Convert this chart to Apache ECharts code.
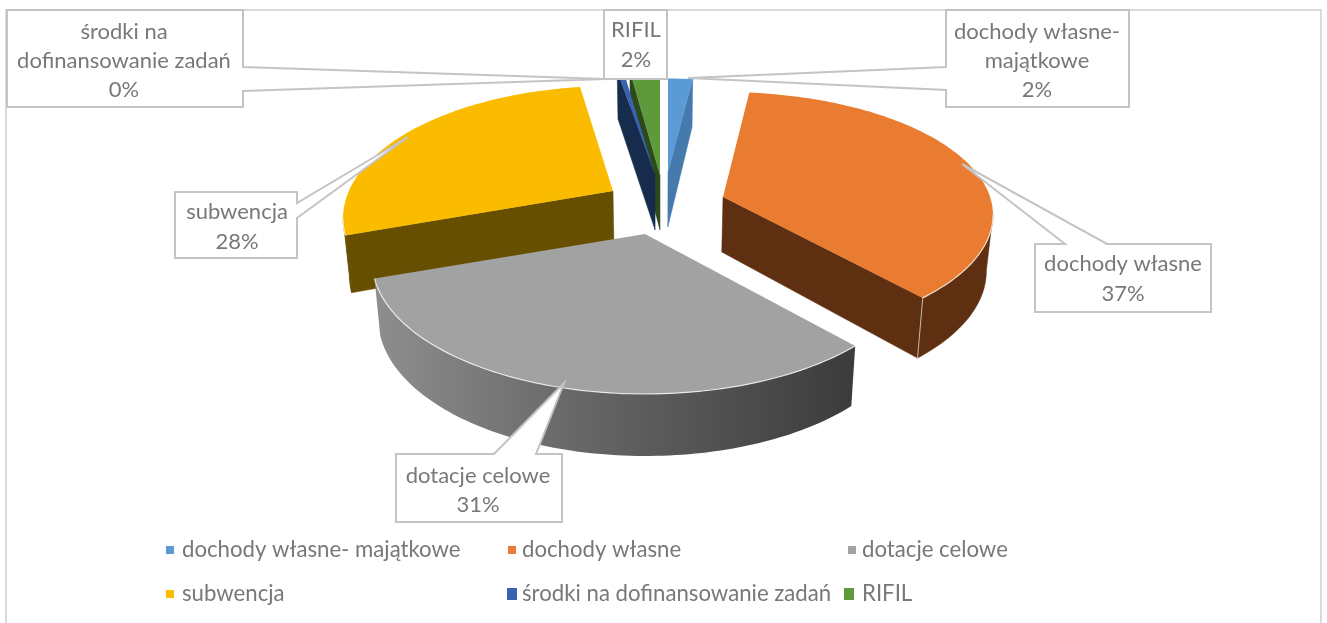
<!DOCTYPE html>
<html>
<head>
<meta charset="utf-8">
<script src="https://cdn.jsdelivr.net/npm/echarts@6/dist/echarts.min.js"></script>
<style>html,body{margin:0;padding:0;background:#fff}#c{width:1327px;height:623px}#c canvas{filter:blur(.5px)}</style>
</head>
<body>
<div id="c"></div>
<script>
// ---- data ----
const categories = ['dochody własne- majątkowe','dochody własne','dotacje celowe','subwencja','środki na dofinansowanie zadań','RIFIL'];
const shares = [1.8, 36.6, 31.3, 27.9, 0.4, 2.0];
const percentLabels = ['2%','37%','31%','28%','0%','2%'];

// ---- layout and style ----
const topColors = ['#5B9BD5','#E97C30','#A2A2A2','#FBBC00','#3A62AE','#5E9A3C'];
const wallColors = ['#447AAC','#5E2F10',null,'#664F00','#172B4D','#2C4A1C'];
const apexes = [[668,172],[723,197],[645,234],[613,191],[655,175],[660,175]];
const perspective = [0.2075,0.147,0.2075,0.2075,0.2075,0.2075];
const xScales = [1,1,1.01,1,1.15,1.1];
const yScales = [0.89,1,1,1,1,1];
const drawOrder = [3,1,5,4,0,2];
const BASE_BACK = 105, BASE_WIDTH = 270, CX = 660, SHRINK = 0.98;

const total = shares.reduce((a,b)=>a+b,0);
const starts = []; let acc = 0;
shares.forEach(s=>{starts.push(acc); acc+=s;});

function topPt(i, th){
  const k=perspective[i];
  const B=BASE_BACK*(1+k), A=BASE_WIDTH*Math.sqrt(1-k*k);
  const u=Math.sin(th), v=Math.cos(th), w=1+k*v, a=apexes[i];
  return {x:a[0]+xScales[i]*A*u/w, y:a[1]-yScales[i]*B*v/w, v};
}
function xy(p){ return [p.x,p.y]; }
function lower(p){ return [CX+(p.x-CX)*SHRINK, p.y+55-7*p.v]; }

function sliceShapes(i){
  const th0 = starts[i]/total*2*Math.PI, th1 = (starts[i]+shares[i])/total*2*Math.PI;
  const n = Math.max(2, Math.ceil((th1-th0)/0.02));
  const rim = [];
  for(let k=0;k<=n;k++) rim.push(topPt(i, th0+(th1-th0)*k/n));
  const apex = {x:apexes[i][0],y:apexes[i][1],v:0};
  const wall = wallColors[i];
  const kids = [];
  const quad = (a,b,fill)=>kids.push({type:'polygon',shape:{points:[xy(a),xy(b),lower(b),lower(a)]},
    style:{fill,stroke:fill,lineWidth:0.5}});
  // radial walls: seen only when the edge runs right-to-left on screen
  if(rim[0].x < apex.x-0.5) quad(apex,rim[0],wall||'#555');
  if(apex.x < rim[n].x-0.5) quad(rim[n],apex,wall||'#555');
  // rim wall: the run of the arc that faces the viewer
  const front = rim.filter((p,k)=> (k<n && rim[k+1].x<p.x) || (k>0 && p.x<rim[k-1].x));
  if(front.length>1){
    const pts = front.map(xy).concat(front.map(lower).reverse());
    const fill = wall || new echarts.graphic.LinearGradient(375,0,850,0,[
      {offset:0,color:'#8E8E8E'},{offset:0.45,color:'#656565'},{offset:1,color:'#3C3C3C'}],true);
    kids.push({type:'polygon',shape:{points:pts},style:{fill,stroke:wall||'rgba(0,0,0,0)',lineWidth:wall?0.5:0}});
    if(i===1){
      const c = rim[n], d = lower(c);
      kids.push({type:'line',shape:{x1:c.x,y1:c.y,x2:d[0],y2:d[1]},style:{stroke:'#C9B9AC',lineWidth:1}});
    }
  }
  kids.push({type:'polygon',shape:{points:[xy(apex)].concat(rim.map(xy))},style:{fill:topColors[i]}});
  if(front.length>1){
    kids.push({type:'polyline',shape:{points:front.map(xy)},style:{fill:'none',stroke:'rgba(255,255,255,0.75)',lineWidth:1.2}});
  }
  return {type:'group',children:kids};
}

const sliceSeries = categories.map((name,i)=>({
  type:'custom', name, coordinateSystem:'none', silent:true,
  z:2+drawOrder.indexOf(i),
  itemStyle:{color:topColors[i]},
  data:[[shares[i]]],
  renderItem:()=>sliceShapes(i)
}));

// callouts: outline, then text centre and line positions
const callouts = [
 {idx:4, lines:['środki na','dofinansowanie zadań','0%'], cx:124, ys:[32,61,90],
  pts:[[7,10],[243,10],[243,67],[606,79],[243,91],[243,107],[7,107]]},
 {idx:5, lines:['RIFIL','2%'], cx:636, ys:[30,60],
  pts:[[604,10],[667,10],[667,79],[604,79]]},
 {idx:0, lines:['dochody własne-','majątkowe','2%'], cx:1037, ys:[32,61,90],
  pts:[[946,10],[1129,10],[1129,107],[946,107],[946,90],[688,78],[946,67]]},
 {idx:3, lines:['subwencja','28%'], cx:237, ys:[212,242],
  pts:[[175,192],[297,192],[297,203],[408,137],[297,218],[297,258],[175,258]]},
 {idx:1, lines:['dochody własne','37%'], cx:1123, ys:[264,294],
  pts:[[1035,244],[1065,244],[962,164],[1107,244],[1211,244],[1211,312],[1035,312]]},
 {idx:2, lines:['dotacje celowe','31%'], cx:478, ys:[476,505],
  pts:[[396,454],[494,454],[564,383],[536,454],[562,454],[562,522],[396,522]]}
];
const labelFont = 'Lato, "Noto Sans", sans-serif';
function calloutShapes(){
  const kids=[];
  callouts.forEach(c=>{
    kids.push({type:'polygon',shape:{points:c.pts},style:{fill:'#fff',stroke:'#C4C4C4',lineWidth:2}});
    c.lines.forEach((t,j)=>{
      const text = j===c.lines.length-1 ? percentLabels[c.idx] : t;
      kids.push({type:'text',style:{text,x:c.cx,y:c.ys[j],align:'center',verticalAlign:'middle',
        fill:'#787878',font:'22px '+labelFont}});
    });
  });
  return {type:'group',children:kids};
}

const legendPos = [[166,539,8,8,3],[508,539,8,8,1],[848,539,8,8,1],[166,583,8,8,3],[507,583,10,12,0],[844,583,10,12,3]];
const legends = categories.map((name,i)=>({
  data:[name], left:legendPos[i][0], top:legendPos[i][1],
  itemWidth:legendPos[i][2], itemHeight:legendPos[i][3], selectedMode:false, padding:0,
  icon:'rect', orient:'horizontal',
  textStyle:{color:'#787878',fontSize:22.2,fontFamily:labelFont,
    padding:[0,0,0,legendPos[i][4]]}
}));

const chart = echarts.init(document.getElementById('c'),null,{renderer:'canvas'});
chart.setOption({
  animation:false,
  backgroundColor:'#fff',
  legend:legends,
  graphic:[{type:'rect',shape:{x:6,y:10,width:1315,height:640},style:{fill:'none',stroke:'#DADADA',lineWidth:2},silent:true,z:0}],
  series:sliceSeries.concat([{
    type:'custom',name:'labels',coordinateSystem:'none',silent:true,z:20,data:[[0]],renderItem:calloutShapes
  }])
});
</script>
</body>
</html>
